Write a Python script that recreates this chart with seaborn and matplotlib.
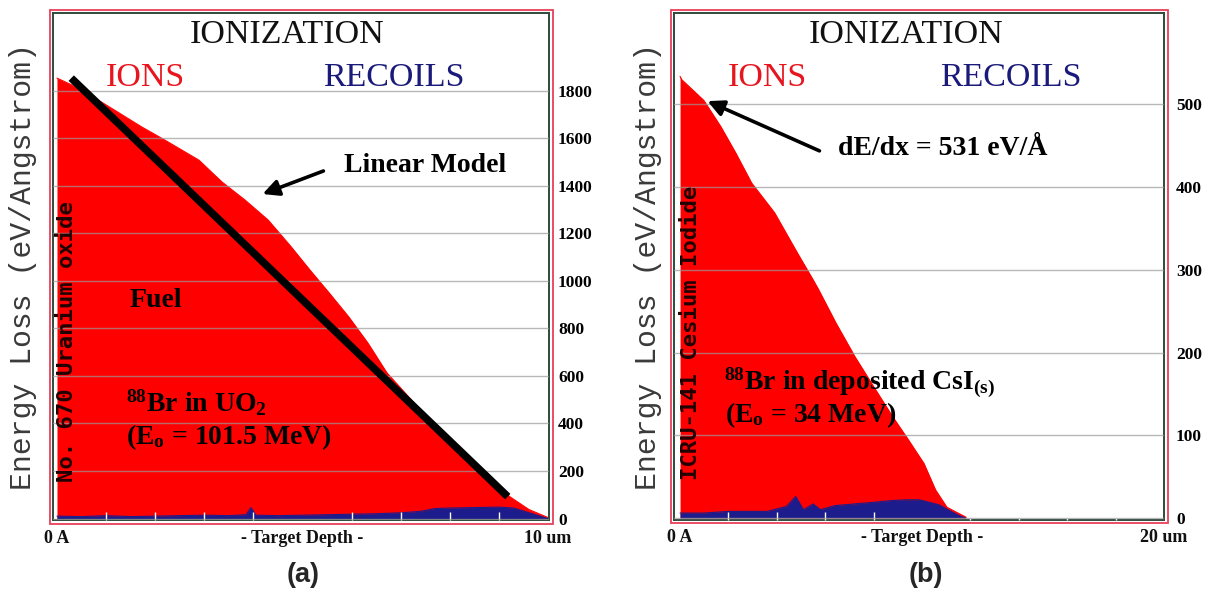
import matplotlib
matplotlib.use("Agg")
import matplotlib.pyplot as plt
from matplotlib.patches import Rectangle
from matplotlib.ticker import MultipleLocator
import seaborn as sns

# ---------------- data ----------------
# Panel (a): 88Br in UO2, depth in um, energy loss in eV/Angstrom
depth_a = [0, 0.4, 0.94, 1.73, 2.2, 2.89, 3.36, 3.83, 4.3, 4.77, 5.15, 5.54,
           5.94, 6.33, 6.72, 7.27, 7.82, 8.29, 8.76, 9.22, 9.61, 10.0]
ions_a = [1853, 1815, 1748, 1647, 1592, 1508, 1416, 1340, 1256, 1143, 1046, 950,
          849, 739, 613, 487, 374, 277, 176, 92, 38, 4]
recoil_depth_a = [0, 0.5, 1.0, 1.5, 2.0, 2.5, 3.0, 3.5, 3.85, 3.95, 4.05, 4.5, 5.0,
                  5.5, 6.0, 6.5, 7.0, 7.4, 7.7, 8.0, 8.5, 9.0, 9.3, 9.6, 9.9, 10.0]
recoils_a = [10, 8, 12, 8, 10, 12, 14, 12, 16, 46, 14, 12, 14,
             16, 18, 20, 24, 30, 42, 44, 46, 48, 44, 25, 6, 0]
linear_x = [0.29, 9.18]
linear_y = [1853, 92]
yticks_a = [0, 200, 400, 600, 800, 1000, 1200, 1400, 1600, 1800]
xticks_a = [0, 5, 10]
xlabels_a = ["0 A", "- Target Depth -", "10 um"]

# Panel (b): 88Br in deposited CsI(s)
depth_b = [0, 0.07, 0.98, 1.69, 2.31, 2.96, 3.91, 4.86, 5.5, 5.73, 6.44, 7.23,
           8.02, 8.8, 9.45, 10.08, 10.56, 11.03, 11.82]
ions_b = [534, 530, 505, 473, 441, 405, 369, 320, 288, 276, 236, 195,
          158, 122, 94, 66, 34, 13, 1]
recoil_depth_b = [0, 0.1, 1.0, 2.0, 3.0, 3.6, 4.4, 4.78, 5.1, 5.5, 5.8, 6.4, 7.2,
                  8.0, 8.7, 9.3, 9.9, 10.7, 11.2, 11.6, 11.8]
recoils_b = [6, 6, 6, 8, 8, 8, 14, 26, 10, 17, 10, 15, 17,
             19, 21, 22, 22, 16, 8, 2, 0]
yticks_b = [0, 100, 200, 300, 400, 500]
xticks_b = [0, 10, 20]
xlabels_b = ["0 A", "- Target Depth -", "20 um"]

# ---------------- style ----------------
sns.set_style("white")
plt.rcParams["font.family"] = ["Liberation Serif", "DejaVu Serif"]
plt.rcParams["mathtext.fontset"] = "custom"
plt.rcParams["mathtext.rm"] = "Liberation Serif:bold"
plt.rcParams["mathtext.it"] = "Liberation Serif:italic:bold"
plt.rcParams["mathtext.bf"] = "Liberation Serif:bold"

RED = "#ff0000"
NAVY = "#1c1c8c"
FRAME = "#2f4a3c"
PINK = "#e8405a"
GRID = "#9a9a9a"

W, H = 1206, 589
fig = plt.figure(figsize=(W / 100, H / 100), dpi=100)


def fx(x):
    return x / W


def fy(y):
    return 1 - y / H


def make_axes(l, t, r, b):
    return fig.add_axes([fx(l), fy(b), fx(r) - fx(l), fy(t) - fy(b)])


def panel(ax, depth, ions, rdepth, rec, xlim, ylim, yticks, xticks, xlabels,
          minor_step, ypad):
    ax.set_xlim(xlim)
    ax.set_ylim(ylim)
    ax.fill_between(depth, ions, color=RED, lw=0, zorder=1)
    sns.lineplot(x=depth, y=ions, color=RED, lw=0.8, ax=ax, zorder=1.1)
    ax.fill_between(rdepth, rec, color=NAVY, lw=0, zorder=1.5)
    sns.lineplot(x=rdepth, y=rec, color=NAVY, lw=0.8, ax=ax, zorder=1.6)
    ax.set_xlabel("")
    ax.set_ylabel("")
    # grid
    ax.set_axisbelow(False)
    ax.yaxis.grid(True, color=GRID, lw=1.0, alpha=0.7)
    ax.xaxis.grid(False)
    # y ticks on right
    ax.yaxis.tick_right()
    ax.set_yticks(yticks)
    ax.set_yticklabels([str(v) for v in yticks])
    ax.tick_params(axis="y", which="both", left=False, right=False, length=0,
                   pad=ypad, labelsize=12.5, labelcolor="black")
    # x ticks
    ax.set_xticks(xticks)
    ax.set_xticklabels(xlabels)
    ax.tick_params(axis="x", which="major", length=0, pad=7, labelsize=13,
                   labelcolor="#111111")
    ax.xaxis.set_minor_locator(MultipleLocator(minor_step))
    ax.tick_params(axis="x", which="minor", direction="in", length=6, width=1,
                   color="white", bottom=True, top=False)
    for lbl in ax.get_yticklabels() + ax.get_xticklabels():
        lbl.set_fontweight("bold")
    for s in ax.spines.values():
        s.set_color(FRAME)
        s.set_linewidth(1.4)
        s.set_visible(True)


def pink_frame(l, t, r, b):
    fig.patches.append(Rectangle((fx(l), fy(b)), fx(r) - fx(l), fy(t) - fy(b),
                                 transform=fig.transFigure, fill=False,
                                 ec=PINK, lw=1.3))


# ---------------- panel (a) ----------------
ax_a = make_axes(53, 13, 549, 520)
panel(ax_a, depth_a, ions_a, recoil_depth_a, recoils_a,
      (-0.081, 10.02), (-6.3, 2127), yticks_a, xticks_a, xlabels_a, 1, 6.5)
sns.lineplot(x=linear_x, y=linear_y, color="black", lw=5.5, ax=ax_a, zorder=4,
             solid_capstyle="butt")
pink_frame(49.5, 9.5, 553, 523.5)

# ---------------- panel (b) ----------------
ax_b = make_axes(674, 13, 1164, 519.5)
panel(ax_b, depth_b, ions_b, recoil_depth_b, recoils_b,
      (-0.25, 20.0), (-1.8, 610.6), yticks_b, xticks_b, xlabels_b, 2, 8.6)
pink_frame(670.5, 9.5, 1168, 523)

# ---------------- texts ----------------
def t(x, y, s, **kw):
    fig.text(fx(x), fy(y), s, **kw)


for cx, ix, rx in [(287, 145, 394), (906, 767, 1011)]:
    t(cx, 43, "IONIZATION", fontsize=24.5, ha="center", va="baseline", color="#111111")
    t(ix, 86, "IONS", fontsize=24.5, ha="center", va="baseline", color="#e8141e")
    t(rx, 86, "RECOILS", fontsize=24.5, ha="center", va="baseline", color="#1a1a7a")

for x in (23, 648):
    t(x, 267, "Energy Loss (eV/Angstrom)", rotation=90, family="Liberation Mono",
      fontsize=21.5, ha="center", va="center", color="#3a3a3a")

t(67.5, 342, "No. 670 Uranium oxide", rotation=90, family="DejaVu Sans Mono",
  weight="bold", fontsize=16, ha="center", va="center", color="#200000")
t(691, 333, "ICRU-141 Cesium Iodide", rotation=90, family="DejaVu Sans Mono",
  weight="bold", fontsize=16, ha="center", va="center", color="#200000")

bold = dict(fontsize=20, weight="bold", ha="left", va="baseline", color="black")
t(344, 172, "Linear Model", **bold)
t(130, 307, "Fuel", **bold)
t(126, 412, r"$^{88}$Br in UO$_2$", **bold)
t(126, 444, r"(E$_\mathrm{o}$ = 101.5 MeV)", **bold)
t(838, 155, "dE/dx = 531 eV/Å", **bold)
t(724, 390, r"$^{88}$Br in deposited CsI$_\mathrm{(s)}$", **bold)
t(725, 422, r"(E$_\mathrm{o}$ = 34 MeV)", **bold)

arrow = dict(arrowstyle="-|>", lw=2.6, color="black", mutation_scale=24)
fig.add_artist(plt.Annotation("", xy=(fx(260), fy(195)), xytext=(fx(326), fy(170)),
                              xycoords="figure fraction", arrowprops=arrow))
fig.add_artist(plt.Annotation("", xy=(fx(705), fy(100)), xytext=(fx(822), fy(152)),
                              xycoords="figure fraction", arrowprops=arrow))

t(303, 575, "(a)", family="Liberation Sans", weight="bold", fontsize=19.5,
  ha="center", va="center")
t(926, 575, "(b)", family="Liberation Sans", weight="bold", fontsize=19.5,
  ha="center", va="center")

fig.savefig("out.png", dpi=100)
